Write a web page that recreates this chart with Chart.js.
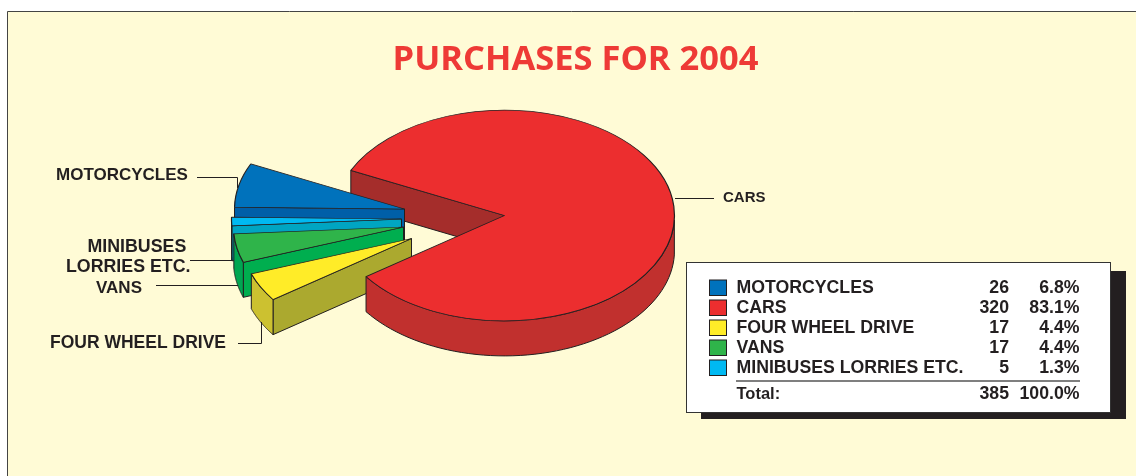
<!DOCTYPE html>
<html>
<head>
<meta charset="utf-8">
<title>Purchases for 2004</title>
<script src="https://cdn.jsdelivr.net/npm/chart.js@4/dist/chart.umd.min.js"></script>
<style>
  html, body { margin: 0; padding: 0; background: #fff; }
  canvas { display: block; }
</style>
</head>
<body>
<canvas id="pieChart" width="1136" height="476"></canvas>
<script>
const chartTitle = "PURCHASES FOR 2004";
const categories = ["MOTORCYCLES", "CARS", "FOUR WHEEL DRIVE", "VANS", "MINIBUSES LORRIES ETC."];
const counts = [26, 320, 17, 17, 5];
const percents = ["6.8%", "83.1%", "4.4%", "4.4%", "1.3%"];
const totalLabel = "Total:";
const totalCount = "385";
const totalPercent = "100.0%";

// slice colours: top face, outer rim, straight cut face
const topColors = ["#0072BC", "#EC2E2F", "#FFEC28", "#2FB44A", "#00B9F2"];
const rimColors = ["#005FA8", "#C1302E", "#CCC130", "#00A651", "#0093AE"];
const cutColors = ["#005FA8", "#A52D2B", "#ABA92F", "#00AE4F", "#00A5C2"];

// how the flat pie is tilted and pulled apart on the page
const centerX = 504.5;
const centerY = 215.5;
const squash = 0.62;
const depth = 35;
const pieRadius = 170;
const sliceShift = [[-100, -6.5], [0, 0], [-93, 23], [-101, 11.5], [-103, 3.5]];
const ink = "#231F20";

function labelFont(size) {
    return "bold " + size + "px 'Liberation Sans', Arial, sans-serif";
}

function rimPoint(el, index, angle) {
    return [
        centerX + sliceShift[index][0] + el.outerRadius * Math.cos(angle),
        centerY + sliceShift[index][1] + squash * el.outerRadius * Math.sin(angle),
    ];
}

function drawCutFace(ctx, el, index) {
    // only the cut facing the viewer shows
    if (Math.cos(el.startAngle) >= 0) return;
    const ax = centerX + sliceShift[index][0];
    const ay = centerY + sliceShift[index][1];
    const p = rimPoint(el, index, el.startAngle);
    ctx.beginPath();
    ctx.moveTo(ax, ay);
    ctx.lineTo(p[0], p[1]);
    ctx.lineTo(p[0], p[1] + depth);
    ctx.lineTo(ax, ay + depth);
    ctx.closePath();
    ctx.fillStyle = cutColors[index];
    ctx.fill();
    ctx.strokeStyle = ink;
    ctx.lineWidth = 1;
    ctx.stroke();
}

function drawRim(ctx, el, index) {
    const steps = 120;
    const pts = [];
    for (let i = 0; i <= steps; i++) {
        const a = el.startAngle + (el.endAngle - el.startAngle) * i / steps;
        if (Math.sin(a) > -0.001) pts.push(rimPoint(el, index, a));
    }
    if (pts.length < 2) return;
    ctx.beginPath();
    pts.forEach((p, i) => (i == 0 ? ctx.moveTo(p[0], p[1]) : ctx.lineTo(p[0], p[1])));
    for (let i = pts.length - 1; i >= 0; i--) {
        ctx.lineTo(pts[i][0], pts[i][1] + depth);
    }
    ctx.closePath();
    ctx.fillStyle = rimColors[index];
    ctx.fill();
    ctx.strokeStyle = ink;
    ctx.lineWidth = 1;
    ctx.stroke();
}

function drawTop(ctx, el, index) {
    ctx.save();
    ctx.translate(centerX + sliceShift[index][0], centerY + sliceShift[index][1]);
    ctx.scale(1, squash);
    ctx.translate(-el.x, -el.y);
    el.draw(ctx);
    ctx.restore();
}

const tiltedPie = {
    id: "tiltedPie",
    beforeDraw(chart) {
        const ctx = chart.ctx;
        ctx.save();
        ctx.fillStyle = "#FFFBD6";
        ctx.fillRect(7, 11, chart.width - 7, chart.height - 11);
        ctx.strokeStyle = "#444";
        ctx.lineWidth = 1;
        ctx.beginPath();
        ctx.moveTo(7.5, chart.height);
        ctx.lineTo(7.5, 11.5);
        ctx.lineTo(chart.width, 11.5);
        ctx.stroke();
        ctx.restore();
    },
    beforeDatasetsDraw(chart) {
        const ctx = chart.ctx;
        const arcs = chart.getDatasetMeta(0).data;
        ctx.save();
        // cars back wall goes behind the pulled out slices, its top in front of them
        drawCutFace(ctx, arcs[1], 1);
        [0, 4, 3, 2].forEach((i) => {
            drawCutFace(ctx, arcs[i], i);
            drawRim(ctx, arcs[i], i);
            drawTop(ctx, arcs[i], i);
        });
        drawRim(ctx, arcs[1], 1);
        drawTop(ctx, arcs[1], 1);
        ctx.restore();
        return false;
    },
};

function drawLeader(ctx, pts) {
    ctx.beginPath();
    pts.forEach((p, i) => (i == 0 ? ctx.moveTo(p[0], p[1]) : ctx.lineTo(p[0], p[1])));
    ctx.stroke();
}

const sideLabels = {
    id: "sideLabels",
    afterDraw(chart) {
        const ctx = chart.ctx;
        ctx.save();
        ctx.fillStyle = ink;
        ctx.textBaseline = "middle";
        ctx.textAlign = "left";
        ctx.font = labelFont(17);
        ctx.fillText(categories[0], 56, 175);
        ctx.font = labelFont(17.8);
        ctx.fillText("MINIBUSES", 87.5, 247);
        ctx.fillText("LORRIES ETC.", 66, 267);
        ctx.font = labelFont(17);
        ctx.fillText(categories[3], 96, 288);
        ctx.font = labelFont(17.5);
        ctx.fillText(categories[2], 50, 343);
        ctx.font = labelFont(15);
        ctx.fillText(categories[1], 723, 198);

        ctx.strokeStyle = ink;
        ctx.lineWidth = 1;
        drawLeader(ctx, [[197, 177.5], [237.5, 177.5], [237.5, 188]]);
        drawLeader(ctx, [[190, 260.5], [233, 260.5]]);
        drawLeader(ctx, [[156, 285.5], [238, 285.5]]);
        drawLeader(ctx, [[238, 343.5], [261.5, 343.5], [261.5, 322]]);
        drawLeader(ctx, [[675, 198.5], [714, 198.5]]);
        ctx.restore();
    },
};

const legendTable = {
    id: "legendTable",
    afterDraw(chart) {
        const ctx = chart.ctx;
        ctx.save();
        ctx.fillStyle = ink;
        ctx.fillRect(701, 271, 425, 148);
        ctx.fillStyle = "#fff";
        ctx.fillRect(686, 262, 425, 151);
        ctx.strokeStyle = "#333";
        ctx.lineWidth = 1;
        ctx.strokeRect(686.5, 262.5, 424, 150);

        ctx.textBaseline = "middle";
        categories.forEach((name, i) => {
            const y = 288 + i * 20;
            ctx.fillStyle = topColors[i];
            ctx.fillRect(709, y - 8, 17, 15.5);
            ctx.strokeStyle = ink;
            ctx.strokeRect(709.5, y - 8, 17, 15.5);
            ctx.fillStyle = ink;
            ctx.font = labelFont(17.7);
            ctx.textAlign = "left";
            ctx.fillText(name, 736.5, y);
            ctx.textAlign = "right";
            ctx.fillText(counts[i], 1009, y);
            ctx.fillText(percents[i], 1079.5, y);
        });

        ctx.strokeStyle = "#555";
        ctx.lineWidth = 1.5;
        drawLeader(ctx, [[736, 381], [1080, 381]]);

        ctx.fillStyle = ink;
        ctx.font = labelFont(17.7);
        ctx.textAlign = "right";
        ctx.fillText(totalCount, 1009, 394);
        ctx.fillText(totalPercent, 1079.5, 394);
        ctx.textAlign = "left";
        ctx.font = labelFont(16.5);
        ctx.fillText(totalLabel, 736.5, 394);
        ctx.restore();
    },
};

new Chart(document.getElementById("pieChart").getContext("2d"), {
    type: "pie",
    data: {
        labels: categories,
        datasets: [
            {
                data: counts,
                backgroundColor: topColors,
                borderColor: ink,
                borderWidth: 1.2,
                radius: pieRadius,
            },
        ],
    },
    options: {
        responsive: false,
        animation: false,
        events: [],
        rotation: 271,
        layout: { padding: { left: 15 } },
        plugins: {
            legend: { display: false },
            tooltip: { enabled: false },
            title: {
                display: true,
                text: chartTitle,
                color: "#EE3A36",
                font: { family: "'Open Sans', sans-serif", size: 34.5, weight: "bold" },
                padding: { top: 39, bottom: 10 },
            },
        },
    },
    plugins: [tiltedPie, sideLabels, legendTable],
});
</script>
</body>
</html>
